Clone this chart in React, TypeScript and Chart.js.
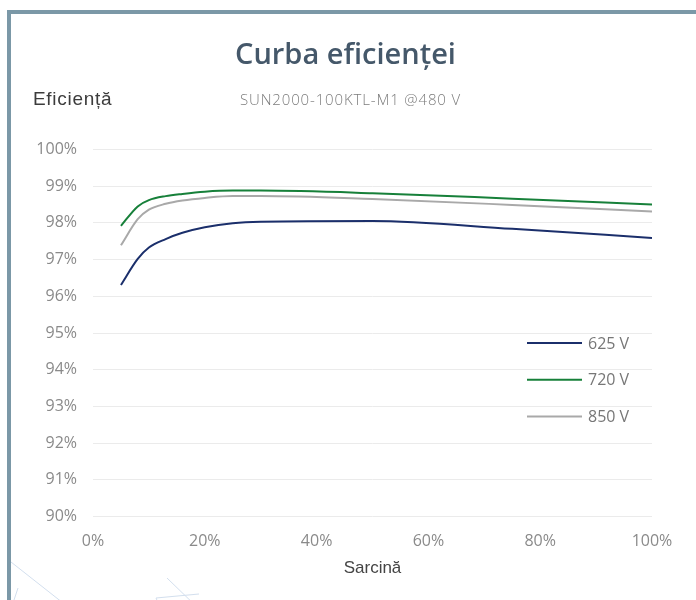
import React, { useEffect, useRef } from "react";
import { Chart, registerables } from "chart.js";

Chart.register(...registerables);

const loadPct = [5, 8, 10, 13, 16, 20, 25, 30, 50, 75, 100];
const eff625 = [96.31, 97.02, 97.33, 97.56, 97.73, 97.88, 97.99, 98.03, 98.05, 97.84, 97.59];
const eff720 = [97.92, 98.45, 98.62, 98.73, 98.79, 98.85, 98.88, 98.88, 98.81, 98.66, 98.5];
const eff850 = [97.39, 98.1, 98.36, 98.52, 98.61, 98.68, 98.73, 98.73, 98.65, 98.49, 98.31];
const seriesLabels = ["625 V", "720 V", "850 V"];
const seriesColors = ["#1b2f6b", "#17803a", "#a9a9a9"];
const titleText = "Curba eficienței";
const yTitleText = "Eficiență";
const subtitleText = "SUN2000-100KTL-M1 @480 V";
const xTitleText = "Sarcină";

const legendPlugin = {
  id: "innerLegend",
  afterDraw(chart: any) {
    const { ctx, chartArea } = chart;
    const x0 = chartArea.left + 434;
    const y0 = chartArea.top + 193.5;
    ctx.save();
    chart.data.datasets.forEach((ds: any, i: number) => {
      const y = y0 + i * 36.7;
      ctx.strokeStyle = ds.borderColor;
      ctx.lineWidth = 2;
      ctx.beginPath();
      ctx.moveTo(x0, y);
      ctx.lineTo(x0 + 55, y);
      ctx.stroke();
      ctx.fillStyle = "#777777";
      ctx.font = "16px 'Open Sans'";
      ctx.textBaseline = "middle";
      ctx.textAlign = "left";
      ctx.fillText(ds.label, x0 + 61, y + 1);
    });
    ctx.restore();
  },
};

export default function App() {
  const ref = useRef<HTMLCanvasElement | null>(null);
  useEffect(() => {
    if (!ref.current) return;
    const mk = (vals: number[]) => loadPct.map((x, i) => ({ x, y: vals[i] }));
    const chart = new Chart(ref.current, {
      type: "line",
      data: {
        datasets: [eff625, eff720, eff850].map((vals, i) => ({
          label: seriesLabels[i],
          data: mk(vals),
          borderColor: seriesColors[i],
          backgroundColor: seriesColors[i],
          borderWidth: 2,
          pointRadius: 0,
          cubicInterpolationMode: "monotone" as const,
          fill: false,
        })),
      },
      options: {
        responsive: false,
        animation: false,
        layout: { padding: { top: 149.5, right: 44, left: 0, bottom: 20 } },
        plugins: {
          legend: { display: false },
          title: { display: false },
          tooltip: { enabled: false },
        },
        scales: {
          x: {
            type: "linear",
            min: 0,
            max: 100,
            afterFit: (s: any) => {
              s.height = 63.5;
            },
            ticks: {
              stepSize: 20,
              padding: 15,
              color: "#8a8a8a",
              font: { family: "'Open Sans'", size: 16 },
              callback: (v: any) => v + "%",
            },
            grid: { display: false, drawTicks: false },
            border: { display: false },
            title: {
              display: true,
              text: xTitleText,
              color: "#444",
              font: { family: "'Liberation Sans'", size: 17 },
              padding: { top: 4, bottom: 1 },
            },
          },
          y: {
            min: 90,
            max: 100,
            afterFit: (s: any) => {
              s.width = 93;
            },
            ticks: {
              stepSize: 1,
              padding: 16,
              color: "#8a8a8a",
              font: { family: "'Open Sans'", size: 16 },
              callback: (v: any) => v + "%",
            },
            grid: { color: "#ebebeb", drawTicks: false, lineWidth: 1 },
            border: { display: false },
          },
        },
      },
      plugins: [legendPlugin],
    });
    return () => chart.destroy();
  }, []);

  return (
    <div style={{ position: "fixed", left: 0, top: 0, width: 696, height: 600, background: "#fff", overflow: "hidden" }}>
      <svg width={696} height={600} style={{ position: "absolute", left: 0, top: 0 }}>
        <g stroke="#d3dfee" strokeWidth={1} fill="none">
          <line x1={11} y1={562} x2={110} y2={640} />
          <line x1={167} y1={578} x2={200} y2={610} />
          <line x1={156} y1={598} x2={170} y2={630} />
          <line x1={156} y1={598} x2={199} y2={594} />
          <line x1={14} y1={600} x2={18} y2={588} />
        </g>
      </svg>
      <div style={{ position: "absolute", left: 7, top: 10, width: 689, height: 4, background: "#7b98a7" }} />
      <div style={{ position: "absolute", left: 7, top: 10, width: 4, height: 590, background: "#7b98a7" }} />
      <canvas ref={ref} width={696} height={600} style={{ position: "absolute", left: 0, top: 0 }} />
      <div style={{ position: "absolute", left: 0, width: 691, top: 33, textAlign: "center", fontFamily: "'Open Sans'", fontWeight: 600, fontSize: 29, color: "#45586a", lineHeight: "40px" }}>
        {titleText}
      </div>
      <div style={{ position: "absolute", left: 33, top: 87, fontFamily: "'Liberation Sans'", fontSize: 19, letterSpacing: "0.7px", color: "#3c3c3c", lineHeight: "24px" }}>
        {yTitleText}
      </div>
      <div style={{ position: "absolute", left: 240, top: 89, fontFamily: "'Open Sans'", fontWeight: 300, fontSize: 15, letterSpacing: "0.85px", color: "#7c7c7c", lineHeight: "20px" }}>
        {subtitleText}
      </div>
    </div>
  );
}
